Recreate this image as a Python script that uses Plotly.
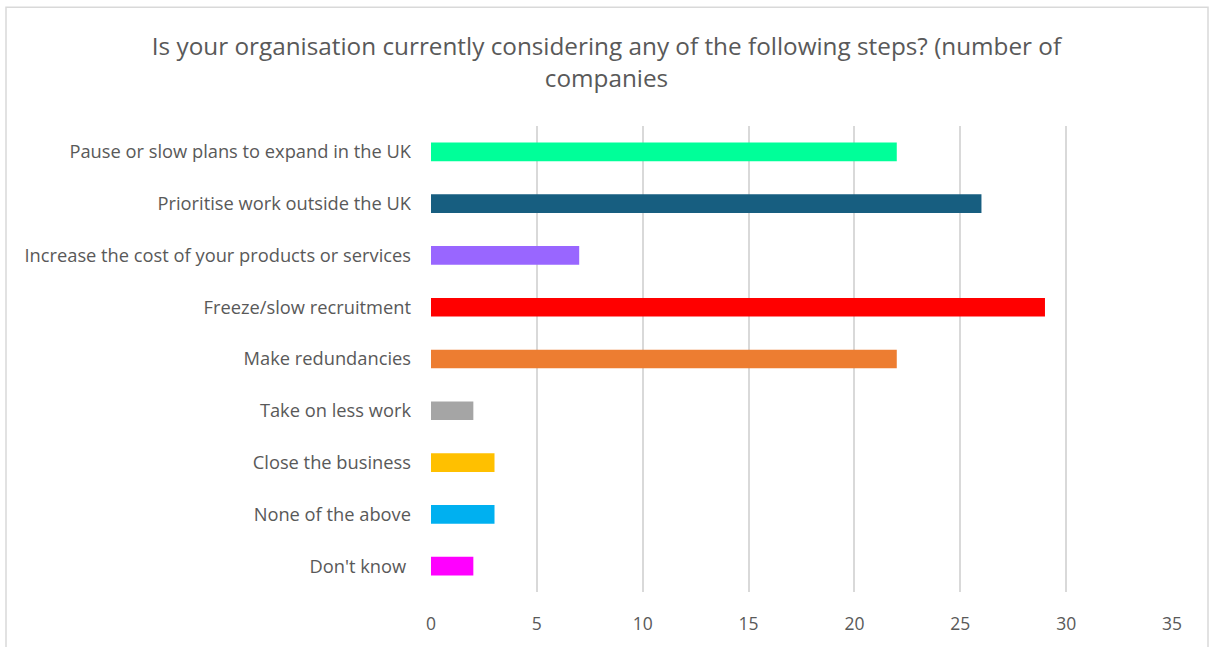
import plotly.graph_objects as go

# Survey responses (number of companies), listed top to bottom
steps = [
    "Pause or slow plans to expand in the UK",
    "Prioritise work outside the UK",
    "Increase the cost of your products or services",
    "Freeze/slow recruitment",
    "Make redundancies",
    "Take on less work",
    "Close the business",
    "None of the above",
    "Don't know ",
]
companies = [22, 26, 7, 29, 22, 2, 3, 3, 2]
bar_colors = [
    "#00FF99", "#175E80", "#9966FF", "#FF0000", "#ED7D31",
    "#A5A5A5", "#FFC000", "#00B0F0", "#FF00FF",
]
x_ticks = [0, 5, 10, 15, 20, 25, 30, 35]

W, H = 1213, 647
ML, MR, MT, MB = 431, 41, 126, 50
pw, ph = W - ML - MR, H - MT - MB


def px_x(p):
    return (p - ML) / pw


def px_y(p):
    return (H - MB - p) / ph


fig = go.Figure(
    go.Bar(
        x=companies,
        y=steps,
        orientation="h",
        marker=dict(color=bar_colors, line=dict(width=0)),
        width=0.36,
        hoverinfo="x+y",
    )
)

fig.update_layout(
    width=W,
    height=H,
    margin=dict(l=ML, r=MR, t=MT, b=MB),
    paper_bgcolor="white",
    plot_bgcolor="white",
    showlegend=False,
    font=dict(family="Open Sans, Noto Sans, sans-serif", color="#595959"),
    title=dict(
        text="Is your organisation currently considering any of the following steps? (number of<br>companies",
        x=0.5,
        xref="container",
        xanchor="center",
        y=1 - 55 / H,
        yref="container",
        yanchor="middle",
        font=dict(size=24.3, color="#595959"),
    ),
    xaxis=dict(
        range=[0, 35],
        tickvals=x_ticks,
        showgrid=True,
        gridcolor="#D9D9D9",
        gridwidth=1.5,
        zeroline=False,
        showline=False,
        ticks="",
        ticklabelstandoff=19,
        tickfont=dict(size=17.5, color="#595959"),
    ),
    yaxis=dict(
        categoryorder="array",
        categoryarray=steps[::-1],
        showgrid=False,
        zeroline=False,
        showline=False,
        ticks="",
        ticklabelstandoff=19,
        tickfont=dict(size=18.3, color="#595959"),
    ),
    shapes=[
        dict(
            type="rect",
            xref="paper",
            yref="paper",
            x0=px_x(6),
            x1=px_x(1208),
            y0=px_y(660),
            y1=px_y(6),
            line=dict(color="#D9D9D9", width=1.5),
            fillcolor="rgba(0,0,0,0)",
            layer="below",
        )
    ],
)

fig.write_html("out.html")
